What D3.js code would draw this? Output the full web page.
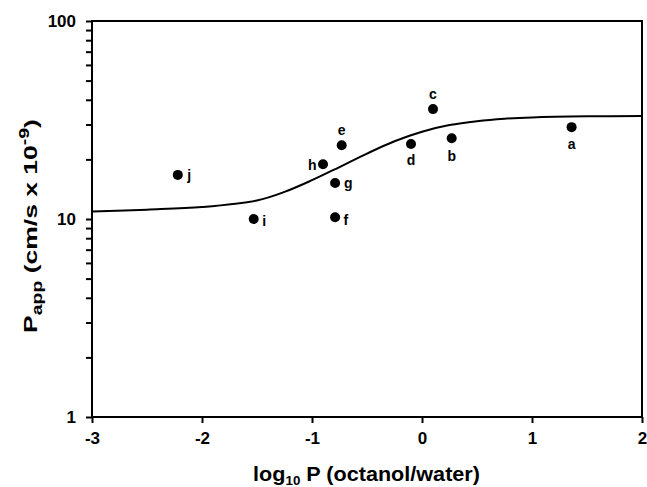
<!DOCTYPE html>
<html>
<head>
<meta charset="utf-8">
<script src="https://cdn.jsdelivr.net/npm/d3@7"></script>
<style>
  html, body { margin: 0; padding: 0; background: #fff; }
  svg { display: block; font-family: "Liberation Sans", Arial, sans-serif; font-weight: bold; }
</style>
</head>
<body>
<svg id="chart" width="647" height="487"></svg>
<script>
// ---- data ----
const labels = ["a", "b", "c", "d", "e", "f", "g", "h", "i", "j"];
const logP   = [1.36, 0.27, 0.10, -0.10, -0.73, -0.79, -0.79, -0.90, -1.53, -2.22];
const papp   = [29.1, 25.6, 35.9, 23.9, 23.6, 10.2, 15.2, 18.9, 10.0, 16.7];

// fitted curve
const curveX = [-3, -2.5, -2, -1.5, -1.25, -1, -0.75, -0.5, -0.25, 0, 0.25, 0.5, 0.75, 1, 1.5, 2];
const curveY = [10.9, 11.15, 11.5, 12.4, 13.7, 15.7, 18.3, 21.4, 24.7, 27.6, 29.8, 31.2, 32.1, 32.6, 33.0, 33.1];

const xTicks = [-3, -2, -1, 0, 1, 2];
const yMajor = [1, 10, 100];

// ---- layout ----
const W = 647, H = 487;
const m = { left: 92, right: 5, top: 21, bottom: 70 };
const svg = d3.select("#chart");

const x = d3.scaleLinear().domain([-3, 2]).range([m.left, W - m.right]);
const y = d3.scaleLog().domain([1, 100]).range([H - m.bottom, m.top]);

const yMinor = [];
[1, 10].forEach(d => { for (let k = 2; k <= 9; k++) yMinor.push(d * k); });

const fmt = d => String(d);

// x axis
const xAxis = svg.append("g")
  .attr("transform", `translate(0,${H - m.bottom})`)
  .call(d3.axisBottom(x).tickValues(xTicks).tickFormat(fmt).tickSize(6).tickPadding(9).tickSizeOuter(0));
xAxis.selectAll("text").attr("font-size", 17).attr("font-weight", "bold")
  .attr("font-family", "Liberation Sans, Arial, sans-serif").attr("fill", "#000");

// y axis major
const yAxis = svg.append("g")
  .attr("transform", `translate(${m.left},0)`)
  .call(d3.axisLeft(y).tickValues(yMajor).tickFormat(fmt).tickSize(6).tickPadding(10).tickSizeOuter(0));
yAxis.selectAll("text").attr("font-size", 17).attr("font-weight", "bold")
  .attr("font-family", "Liberation Sans, Arial, sans-serif").attr("fill", "#000");
// y axis minor
const yAxisMinor = svg.append("g")
  .attr("transform", `translate(${m.left},0)`)
  .call(d3.axisLeft(y).tickValues(yMinor).tickFormat("").tickSize(6).tickSizeOuter(0));

[xAxis, yAxis, yAxisMinor].forEach(a => {
  a.selectAll("path").remove();
  a.selectAll("line").attr("stroke", "#000").attr("stroke-width", 2);
});

// frame
svg.append("rect")
  .attr("x", m.left).attr("y", m.top)
  .attr("width", W - m.right - m.left).attr("height", H - m.bottom - m.top)
  .attr("fill", "none").attr("stroke", "#000").attr("stroke-width", 2);

// curve
const line = d3.line().x((d, i) => x(curveX[i])).y(d => y(d)).curve(d3.curveCatmullRom.alpha(0.5));
svg.append("path").datum(curveY)
  .attr("d", line).attr("fill", "none").attr("stroke", "#000").attr("stroke-width", 2);

// points
const pts = labels.map((l, i) => ({ l, x: logP[i], y: papp[i] }));
svg.append("g").selectAll("circle").data(pts).enter().append("circle")
  .attr("cx", d => x(d.x)).attr("cy", d => y(d.y)).attr("r", 5).attr("fill", "#000");

// point label placement (style)
const place = {
  a: [0, 22, "middle"], b: [0, 23, "middle"], c: [0, -10, "middle"], d: [0, 21, "middle"],
  e: [0, -10, "middle"], f: [8.5, 8, "start"], g: [9, 5, "start"], h: [-6.5, 6, "end"],
  i: [8.5, 6.5, "start"], j: [9.5, 5, "start"]
};
svg.append("g").selectAll("text").data(pts).enter().append("text")
  .attr("x", d => x(d.x) + place[d.l][0])
  .attr("y", d => y(d.y) + place[d.l][1])
  .attr("text-anchor", d => place[d.l][2])
  .attr("font-size", 14).attr("fill", "#000")
  .text(d => d.l);

// x title
const xt = svg.append("g").attr("transform", `translate(366.5,481)`);
const xtt = xt.append("text").attr("text-anchor", "middle").attr("font-size", 21).attr("fill", "#000");
xtt.append("tspan").text("log");
xtt.append("tspan").attr("font-size", 13).attr("dy", 4).text("10");
xtt.append("tspan").attr("dy", -4).text(" P (octanol/water)");
{
  const w = xtt.node().getBBox().width;
  xtt.attr("transform", `scale(${227 / w},1)`);
}

// y title
const yt = svg.append("g").attr("transform", `translate(36.5,226) rotate(-90)`);
const ytt = yt.append("text").attr("text-anchor", "middle").attr("font-size", 19).attr("fill", "#000");
ytt.append("tspan").text("P");
ytt.append("tspan").attr("font-size", 14).attr("dy", 5).text("app");
ytt.append("tspan").attr("dy", -5).text(" (cm/s x 10");
ytt.append("tspan").attr("font-size", 14).attr("dy", -8).text("-9");
ytt.append("tspan").attr("dy", 8).text(")");
{
  const w = ytt.node().getBBox().width;
  ytt.attr("transform", `scale(${214 / w},1)`);
}
</script>
</body>
</html>
